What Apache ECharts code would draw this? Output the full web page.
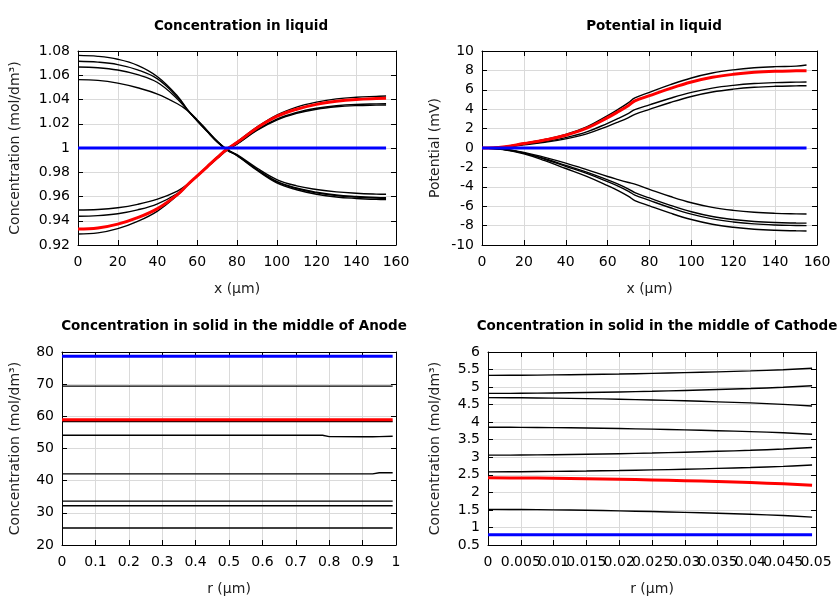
<!DOCTYPE html>
<html>
<head>
<meta charset="utf-8">
<script src="https://cdn.jsdelivr.net/npm/echarts@6/dist/echarts.min.js"></script>
<style>html,body{margin:0;padding:0;background:#fff}#c{width:840px;height:600px}</style>
</head>
<body>
<div id="c"></div>
<script>
// ---------- Panel 1: Concentration in liquid ----------
const liqX = [0,10,20,30,40,50,55,60,65,70,75,80,90,100,110,120,130,140,150,155];
const liqDecA = [1.0764,1.0756,1.0732,1.0682,1.0588,1.0430,1.0318,1.0222,1.0135,1.0050,0.9982,0.9937,0.9817,0.9713,0.9656,0.9619,0.9596,0.9584,0.9576,0.9574];
const liqDecB = [1.0715,1.0708,1.0688,1.0645,1.0570,1.0420,1.0316,1.0225,1.0138,1.0052,0.9985,0.9939,0.9822,0.9721,0.9665,0.9630,0.9607,0.9595,0.9587,0.9585];
const liqDecC = [1.0668,1.0662,1.0643,1.0605,1.0540,1.0405,1.0313,1.0228,1.0141,1.0055,0.9986,0.9940,0.9825,0.9725,0.9670,0.9635,0.9612,0.9600,0.9592,0.9590];
const liqDecD = [1.0564,1.0558,1.0535,1.0497,1.0445,1.0365,1.0310,1.0232,1.0145,1.0058,0.9988,0.9945,0.9835,0.9740,0.9688,0.9658,0.9638,0.9627,0.9620,0.9618];
const liqIncG = [0.9291,0.9300,0.9335,0.9395,0.9480,0.9610,0.9690,0.9770,0.9850,0.9925,0.9995,1.0050,1.0172,1.0272,1.0337,1.0378,1.0405,1.0419,1.0426,1.0429];
const liqIncF = [0.9437,0.9442,0.9458,0.9490,0.9540,0.9625,0.9695,0.9768,0.9843,0.9915,0.9985,1.0035,1.0150,1.0237,1.0293,1.0328,1.0349,1.0360,1.0364,1.0365];
const liqIncE = [0.9489,0.9493,0.9507,0.9535,0.9578,0.9645,0.9698,0.9768,0.9842,0.9913,0.9983,1.0032,1.0145,1.0230,1.0285,1.0320,1.0340,1.0350,1.0354,1.0355];
const liqRed  = [0.9332,0.9340,0.9372,0.9425,0.9500,0.9615,0.9695,0.9770,0.9845,0.9920,0.9992,1.0045,1.0165,1.0260,1.0320,1.0360,1.0385,1.0400,1.0408,1.0410];
const liqBlue = [1,1,1,1,1,1,1,1,1,1,1,1,1,1,1,1,1,1,1,1];

// ---------- Panel 2: Potential in liquid ----------
const potX = [0,10,20,30,40,50,60,65,70,73,80,90,100,110,120,130,140,150,155];
const potP1 = [0,0.114,0.491,0.879,1.396,2.171,3.335,3.981,4.679,5.17,5.744,6.531,7.22,7.728,8.056,8.27,8.384,8.437,8.55];
const potP2 = [0,0.087,0.375,0.672,1.067,1.659,2.548,3.042,3.575,3.95,4.449,5.133,5.731,6.173,6.458,6.643,6.743,6.789,6.8];
const potP3 = [0,0.076,0.33,0.59,0.937,1.457,2.238,2.672,3.14,3.47,3.986,4.694,5.314,5.771,6.066,6.258,6.361,6.408,6.42];
const potL1 = [0,-0.112,-0.446,-0.967,-1.562,-2.232,-2.939,-3.255,-3.553,-3.72,-4.259,-4.998,-5.645,-6.122,-6.43,-6.631,-6.738,-6.788,-6.8];
const potL2 = [0,-0.129,-0.506,-1.104,-1.794,-2.484,-3.289,-3.726,-4.232,-4.6,-5.151,-5.907,-6.569,-7.057,-7.372,-7.577,-7.687,-7.737,-7.75];
const potL3 = [0,-0.136,-0.534,-1.164,-1.892,-2.619,-3.468,-3.929,-4.462,-4.85,-5.401,-6.157,-6.819,-7.307,-7.622,-7.827,-7.937,-7.987,-8.0];
const potL4 = [0,-0.152,-0.596,-1.301,-2.114,-2.927,-3.875,-4.39,-4.986,-5.42,-5.968,-6.719,-7.376,-7.861,-8.174,-8.378,-8.487,-8.537,-8.55];
const potRed = [0,0.107,0.461,0.825,1.31,2.037,3.128,3.735,4.389,4.85,5.396,6.145,6.8,7.284,7.596,7.798,7.908,7.958,7.97];
const potBlue = [0,0,0,0,0,0,0,0,0,0,0,0,0,0,0,0,0,0,0];

// ---------- Panel 3: Anode solid ----------
const anR = [0,0.1,0.2,0.3,0.4,0.5,0.6,0.7,0.78,0.8,0.9,0.93,0.95,0.99];
const anBlue = [78.7,78.7,78.7,78.7,78.7,78.7,78.7,78.7,78.7,78.7,78.7,78.7,78.7,78.7];
const anK1 = [69.4,69.4,69.4,69.4,69.4,69.4,69.4,69.4,69.4,69.4,69.4,69.4,69.4,69.4];
const anRed = [58.9,58.9,58.9,58.9,58.9,58.9,58.9,58.9,58.9,58.9,58.9,58.9,58.9,58.9];
const anK2 = [58.4,58.4,58.4,58.4,58.4,58.4,58.4,58.4,58.4,58.4,58.4,58.4,58.4,58.4];
const anK3 = [54.1,54.1,54.1,54.1,54.1,54.1,54.1,54.1,54.1,53.7,53.65,53.65,53.7,53.8];
const anK4 = [42.1,42.1,42.1,42.1,42.1,42.1,42.1,42.1,42.1,42.1,42.1,42.1,42.45,42.45];
const anK5 = [33.65,33.65,33.65,33.65,33.65,33.65,33.65,33.65,33.65,33.65,33.65,33.65,33.65,33.65];
const anK6 = [32.2,32.2,32.2,32.2,32.2,32.2,32.2,32.2,32.2,32.2,32.2,32.2,32.2,32.2];
const anK7 = [25.3,25.3,25.3,25.3,25.3,25.3,25.3,25.3,25.3,25.3,25.3,25.3,25.3,25.3];

// ---------- Panel 4: Cathode solid ----------
const caR = [0,0.005,0.01,0.015,0.02,0.025,0.03,0.035,0.04,0.045,0.0494];
const caK1 = [5.335,5.339,5.347,5.359,5.373,5.391,5.411,5.435,5.461,5.495,5.535];
const caK2 = [4.82,4.824,4.833,4.846,4.862,4.882,4.904,4.93,4.959,4.996,5.04];
const caK3 = [4.70,4.695,4.686,4.671,4.654,4.633,4.609,4.58,4.549,4.508,4.46];
const caK4 = [3.857,3.853,3.845,3.833,3.819,3.801,3.781,3.757,3.731,3.697,3.657];
const caK5 = [3.06,3.064,3.073,3.086,3.102,3.122,3.144,3.17,3.199,3.236,3.28];
const caK6 = [2.585,2.589,2.597,2.608,2.622,2.64,2.659,2.683,2.708,2.741,2.78];
const caK7 = [1.515,1.511,1.502,1.489,1.473,1.453,1.431,1.405,1.376,1.339,1.295];
const caRed = [2.415,2.411,2.402,2.389,2.374,2.355,2.333,2.308,2.28,2.243,2.20];
const caBlue = [0.79,0.79,0.79,0.79,0.79,0.79,0.79,0.79,0.79,0.79,0.79];

// ---------- Texts ----------
const titles = ['Concentration in liquid','Potential in liquid','Concentration in solid in the middle of Anode','Concentration in solid in the middle of Cathode'];
const xNames = ['x (\u00b5m)','x (\u00b5m)','r (\u00b5m)','r (\u00b5m)'];
const yNames = ['Concentration (mol/dm\u00b3)','Potential (mV)','Concentration (mol/dm\u00b3)','Concentration (mol/dm\u00b3)'];

const FONT = 'DejaVu Sans';
const grids = [
  {left:78, top:51, width:318, height:194},
  {left:482, top:51, width:335, height:194},
  {left:62, top:352, width:334, height:193},
  {left:488, top:352, width:328, height:193}
];
const xr = [[0,160,20],[0,160,20],[0,1,0.1],[0,0.05,0.005]];
const yr = [[0.92,1.08,0.02],[-10,10,2],[20,80,10],[0.5,6,0.5]];
const yGaps = [56,40,40,46];
const titlePos = [[236,14],[649,14],[229,314],[652,314]];

const xAxes = [], yAxes = [];
for (let g=0; g<4; g++) {
  const common = {gridIndex:g, type:'value', min:xr[g][0], max:xr[g][1], interval:xr[g][2],
    axisLine:{show:true, onZero:false, lineStyle:{color:'#000', width:1}},
    axisTick:{show:true, inside:true, length:5, lineStyle:{color:'#000'}}};
  xAxes.push(Object.assign({}, common, {position:'bottom', name:xNames[g], nameLocation:'middle', nameGap:37,
    nameTextStyle:{color:'#222', fontSize:14, fontFamily:FONT},
    axisLabel:{color:'#000', fontSize:14, fontFamily:FONT, margin:10, showMaxLabel:(g===3 ? false : true), showMinLabel:true},
    splitLine:{show:true, lineStyle:{color:'#dadada', width:1}}}));
  xAxes.push(Object.assign({}, common, {position:'top', axisLabel:{show:false}, splitLine:{show:false}}));
  const ycommon = {gridIndex:g, type:'value', min:yr[g][0], max:yr[g][1], interval:yr[g][2],
    axisLine:{show:true, onZero:false, lineStyle:{color:'#000', width:1}},
    axisTick:{show:true, inside:true, length:5, lineStyle:{color:'#000'}}};
  yAxes.push(Object.assign({}, ycommon, {position:'left', name:yNames[g], nameLocation:'middle', nameGap:yGaps[g],
    nameTextStyle:{color:'#222', fontSize:14, fontFamily:FONT},
    axisLabel:{color:'#000', fontSize:14, fontFamily:FONT, margin:8},
    splitLine:{show:true, lineStyle:{color:'#dadada', width:1}}}));
  yAxes.push(Object.assign({}, ycommon, {position:'right', axisLabel:{show:false}, splitLine:{show:false}}));
}
// extra bottom axis on the cathode panel that only carries the last tick label
xAxes.push({gridIndex:3, type:'value', position:'bottom', min:xr[3][0], max:xr[3][1], interval:xr[3][2],
  axisLine:{show:false, onZero:false}, axisTick:{show:false}, splitLine:{show:false},
  axisLabel:{color:'#000', fontSize:14, fontFamily:FONT, margin:10, showMaxLabel:true,
    formatter:function(v){ return Math.abs(v - xr[3][1]) < 1e-9 ? String(xr[3][1]) : ''; }}});

function zip(xs, ys){ return xs.map((x,i)=>[x, ys[i]]); }
const series = [];
function add(g, xs, ys, color, width, smooth){
  series.push({type:'line', xAxisIndex:2*g, yAxisIndex:2*g, data:zip(xs, ys), showSymbol:false, symbol:'none',
    smooth:smooth, lineStyle:{color:color, width:width}, silent:true, animation:false});
}
[liqDecA,liqDecB,liqDecC,liqDecD,liqIncG,liqIncF,liqIncE].forEach(d=>add(0, liqX, d, '#000', 1.4, 0.4));
add(0, liqX, liqRed, '#ff0000', 3, 0.4);
add(0, liqX, liqBlue, '#0000ff', 3, false);
[potP1,potP2,potP3,potL1,potL2,potL3,potL4].forEach(d=>add(1, potX, d, '#000', 1.4, 0.4));
add(1, potX, potRed, '#ff0000', 3, 0.4);
add(1, potX, potBlue, '#0000ff', 3, false);
[anK1,anK2,anK3,anK4,anK5,anK6,anK7].forEach(d=>add(2, anR, d, '#000', 1.4, false));
add(2, anR, anRed, '#ff0000', 3, false);
add(2, anR, anBlue, '#0000ff', 3, false);
[caK1,caK2,caK3,caK4,caK5,caK6,caK7].forEach(d=>add(3, caR, d, '#000', 1.4, 0.4));
add(3, caR, caRed, '#ff0000', 3, 0.4);
add(3, caR, caBlue, '#0000ff', 3, false);

const chart = echarts.init(document.getElementById('c'), null, {renderer:'canvas'});
chart.setOption({
  backgroundColor:'#fff',
  animation:false,
  title: titles.map((t,i)=>({text:t, left:titlePos[i][0], top:titlePos[i][1], textAlign:'center',
    textStyle:{fontSize:13.5, fontWeight:'bold', color:'#000', fontFamily:FONT}})),
  grid: grids,
  xAxis: xAxes,
  yAxis: yAxes,
  series: series
});
</script>
</body>
</html>
